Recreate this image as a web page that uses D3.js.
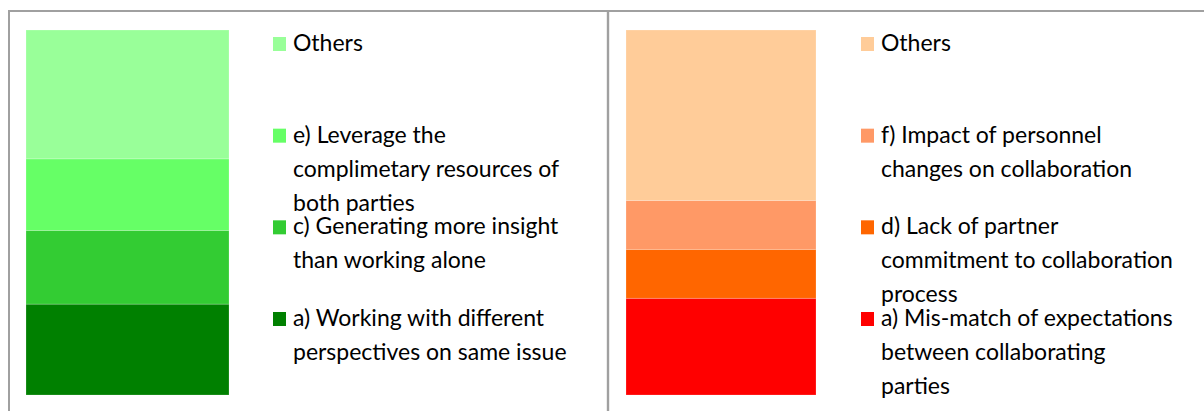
<!DOCTYPE html>
<html>
<head>
<meta charset="utf-8">
<script src="https://cdn.jsdelivr.net/npm/d3@7"></script>
<style>
  html, body { margin: 0; padding: 0; background: #fff; }
  svg { display: block; }
  .legend-text { font-family: Lato, "Open Sans", sans-serif; font-size: 23px; fill: #000; }
</style>
</head>
<body>
<div id="chart"></div>
<script>
// stacked from the bottom up; legend is listed top-down (reverse)
const leftKeys = ["a", "c", "e", "Others"];
const leftValues = [24.9, 20.2, 19.6, 35.3];
const leftLabels = [
  ["a) Working with different", "perspectives on same issue"],
  ["c) Generating more insight", "than working alone"],
  ["e) Leverage the", "complimetary resources of", "both parties"],
  ["Others"]
];
const leftColors = ["#008000", "#33cc33", "#66ff66", "#99ff99"];

const rightKeys = ["a", "d", "f", "Others"];
const rightValues = [26.5, 13.4, 13.4, 46.7];
const rightLabels = [
  ["a) Mis-match of expectations", "between collaborating", "parties"],
  ["d) Lack of partner", "commitment to collaboration", "process"],
  ["f) Impact of personnel", "changes on collaboration"],
  ["Others"]
];
const rightColors = ["#ff0000", "#ff6600", "#ff9966", "#ffcc99"];

const width = 1204, height = 411;

const svg = d3.select("#chart").append("svg")
  .attr("width", width)
  .attr("height", height);

// frame + divider
svg.append("rect")
  .attr("x", 9).attr("y", 11)
  .attr("width", 1220).attr("height", 420)
  .attr("fill", "none")
  .attr("stroke", "#a0a0a0")
  .attr("stroke-width", 2);
svg.append("line")
  .attr("x1", 608).attr("x2", 608)
  .attr("y1", 11).attr("y2", height)
  .attr("stroke", "#a0a0a0")
  .attr("stroke-width", 2.4);

const y = d3.scaleLinear().domain([0, 100]).range([395, 30]);

function drawPanel(keys, values, labels, colors, opts) {
  const g = svg.append("g");

  const row = {};
  keys.forEach((k, i) => { row[k] = values[i]; });
  const series = d3.stack().keys(keys)([row]);

  g.selectAll("rect.seg")
    .data(series)
    .enter().append("rect")
    .attr("class", "seg")
    .attr("x", opts.barX)
    .attr("width", opts.barW)
    .attr("y", d => y(d[0][1]))
    .attr("height", d => y(d[0][0]) - y(d[0][1]))
    .attr("fill", (d, i) => colors[i])
    .attr("stroke", "#fff")
    .attr("stroke-opacity", 0.25)
    .attr("stroke-width", 0.8);

  // legend slots, top to bottom
  const order = keys.slice().reverse();
  const slot = d3.scalePoint().domain(order).range([51, 326]);

  const items = g.selectAll("g.item")
    .data(order)
    .enter().append("g")
    .attr("class", "item")
    .attr("transform", k => `translate(${opts.legX},${slot(k)})`);

  items.append("rect")
    .attr("x", 0).attr("y", -14)
    .attr("width", 13).attr("height", 14)
    .attr("fill", k => colors[keys.indexOf(k)]);

  items.each(function(k) {
    const lines = labels[keys.indexOf(k)];
    const t = d3.select(this).append("text")
      .attr("class", "legend-text")
      .attr("x", 20).attr("y", 0);
    lines.forEach((ln, j) => {
      t.append("tspan").attr("x", 20).attr("y", j * 34).text(ln);
    });
  });
}

drawPanel(leftKeys, leftValues, leftLabels, leftColors, { barX: 26, barW: 203, legX: 273 });
drawPanel(rightKeys, rightValues, rightLabels, rightColors, { barX: 626, barW: 190, legX: 861 });
</script>
</body>
</html>
